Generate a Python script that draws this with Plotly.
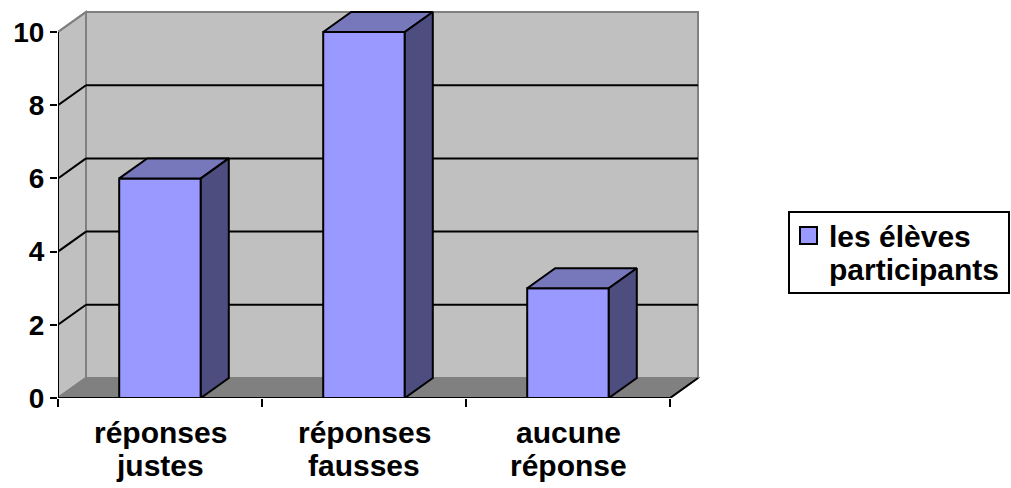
import plotly.graph_objects as go

# Data
categories = ["réponses<br>justes", "réponses<br>fausses", "aucune<br>réponse"]
values = [6, 10, 3]
series_name = "les élèves<br>participants"
y_ticks = [0, 2, 4, 6, 8, 10]

# Styling
W, H = 1011, 488
FONT = "Liberation Sans, Arial, sans-serif"
FS_TICK = 28
FS_TEXT = 30
FRONT = "#9999FF"
TOP = "#7777BB"
SIDE = "#4D4D80"
WALL = "#C0C0C0"
FLOOR = "#808080"
EDGE = "#808080"

# plot area in pixels
PX0, PX1 = 58, 700
PY0 = 398
X_SCALE = 204.0   # px per category
Y_SCALE = 36.6    # px per unit
DX = 28 / X_SCALE  # depth offset in axis units
DY = 20 / Y_SCALE
NCAT = len(categories)
YMAX = max(y_ticks)
BAR_W = 0.4
LINE_PITCH = 33   # px between label lines

fig = go.Figure()

# Front faces of the bars
fig.add_trace(go.Bar(
    x=[i + 0.5 for i in range(NCAT)], y=values, width=BAR_W,
    marker=dict(color=FRONT, line=dict(color="black", width=2)),
    name=series_name, showlegend=False, hoverinfo="y",
))

# Top and side faces
for i, v in enumerate(values):
    x0 = i + 0.5 - BAR_W / 2
    x1 = i + 0.5 + BAR_W / 2
    fig.add_trace(go.Scatter(
        x=[x0, x0 + DX, x1 + DX, x1, x0], y=[v, v + DY, v + DY, v, v],
        mode="lines", fill="toself", fillcolor=TOP,
        line=dict(color="black", width=2), showlegend=False, hoverinfo="skip"))
    fig.add_trace(go.Scatter(
        x=[x1, x1, x1 + DX, x1 + DX, x1], y=[0, v, v + DY, DY, 0],
        mode="lines", fill="toself", fillcolor=SIDE,
        line=dict(color="black", width=2), showlegend=False, hoverinfo="skip"))

shapes = []
# back wall
shapes.append(dict(type="rect", xref="x", yref="y", x0=DX, x1=NCAT + DX, y0=DY, y1=YMAX + DY,
                   fillcolor=WALL, line=dict(color=EDGE, width=2), layer="below"))
# left wall
shapes.append(dict(type="path", xref="x", yref="y",
                   path=f"M0,0 L0,{YMAX} L{DX},{YMAX + DY} L{DX},{DY} Z",
                   fillcolor=WALL, line=dict(color=EDGE, width=2), layer="below"))
# floor
shapes.append(dict(type="path", xref="x", yref="y",
                   path=f"M0,0 L{DX},{DY} L{NCAT + DX},{DY} L{NCAT},0 Z",
                   fillcolor=FLOOR, line=dict(color=EDGE, width=2), layer="below"))
# gridlines on back wall and left wall
for t in y_ticks:
    if 0 < t < YMAX:
        shapes.append(dict(type="line", xref="x", yref="y", x0=DX, x1=NCAT + DX,
                           y0=t + DY, y1=t + DY, line=dict(color="black", width=2), layer="below"))
    col = "black" if 0 < t < YMAX else EDGE
    shapes.append(dict(type="line", xref="x", yref="y", x0=0, x1=DX,
                       y0=t, y1=t + DY, line=dict(color=col, width=2), layer="below"))
# right floor edge
shapes.append(dict(type="line", xref="x", yref="y", x0=NCAT, x1=NCAT + DX, y0=0, y1=DY,
                   line=dict(color="black", width=2), layer="below"))
# value axis line and category axis line
shapes.append(dict(type="line", xref="x", yref="y", x0=0, x1=0, y0=0, y1=YMAX,
                   line=dict(color="black", width=2)))
shapes.append(dict(type="line", xref="x", yref="y", x0=0, x1=NCAT, y0=0, y1=0,
                   line=dict(color="black", width=2)))

# legend box
LX0, LX1, LY0, LY1 = 789, 1009, 212, 293
shapes.append(dict(type="rect", xref="paper", yref="paper",
                   x0=LX0 / W, x1=LX1 / W, y0=1 - LY1 / H, y1=1 - LY0 / H,
                   fillcolor="white", line=dict(color="black", width=2)))
shapes.append(dict(type="rect", xref="paper", yref="paper",
                   x0=800 / W, x1=817 / W, y0=1 - 244 / H, y1=1 - 227 / H,
                   fillcolor=FRONT, line=dict(color="black", width=2)))

label_font = dict(family=FONT, size=FS_TEXT, color="black", weight="bold")
annotations = []
# legend text, one line per annotation for tight spacing
for k, line in enumerate(series_name.split("<br>")):
    annotations.append(dict(
        xref="paper", yref="paper", x=827 / W, y=1 - (236 + k * LINE_PITCH) / H,
        xanchor="left", yanchor="middle", text=line, showarrow=False,
        font=label_font))
# category labels under the axis
for i, cat in enumerate(categories):
    for k, line in enumerate(cat.split("<br>")):
        annotations.append(dict(
            xref="x", yref="paper", x=i + 0.5, y=1 - (432 + k * LINE_PITCH) / H,
            xanchor="center", yanchor="middle", text=line, showarrow=False,
            font=label_font))

fig.update_layout(
    width=W, height=H,
    margin=dict(l=0, r=0, t=0, b=0),
    paper_bgcolor="white", plot_bgcolor="rgba(0,0,0,0)",
    showlegend=False,
    shapes=shapes, annotations=annotations,
    font=dict(family=FONT, size=FS_TICK, color="black"),
    xaxis=dict(
        domain=[PX0 / W, PX1 / W], range=[0, (PX1 - PX0) / X_SCALE],
        automargin=False,
        tickmode="array", tickvals=[i + 0.5 for i in range(NCAT)], ticktext=[""] * NCAT,
        ticks="", showgrid=False, zeroline=False, showline=False,
        minor=dict(tickmode="array", tickvals=list(range(NCAT + 1)), ticks="outside",
                   ticklen=8, tickwidth=2, tickcolor="black", showgrid=False),
        fixedrange=True,
    ),
    yaxis=dict(
        domain=[1 - PY0 / H, 1], range=[0, PY0 / Y_SCALE],
        automargin=False,
        tickmode="array", tickvals=y_ticks, ticktext=[str(t) for t in y_ticks],
        ticks="outside", ticklen=7, tickwidth=2, tickcolor="black",
        showgrid=False, zeroline=False, showline=False,
        tickfont=dict(family=FONT, size=FS_TICK, color="black", weight="bold"),
        fixedrange=True,
    ),
)

fig.write_html("out.html")
